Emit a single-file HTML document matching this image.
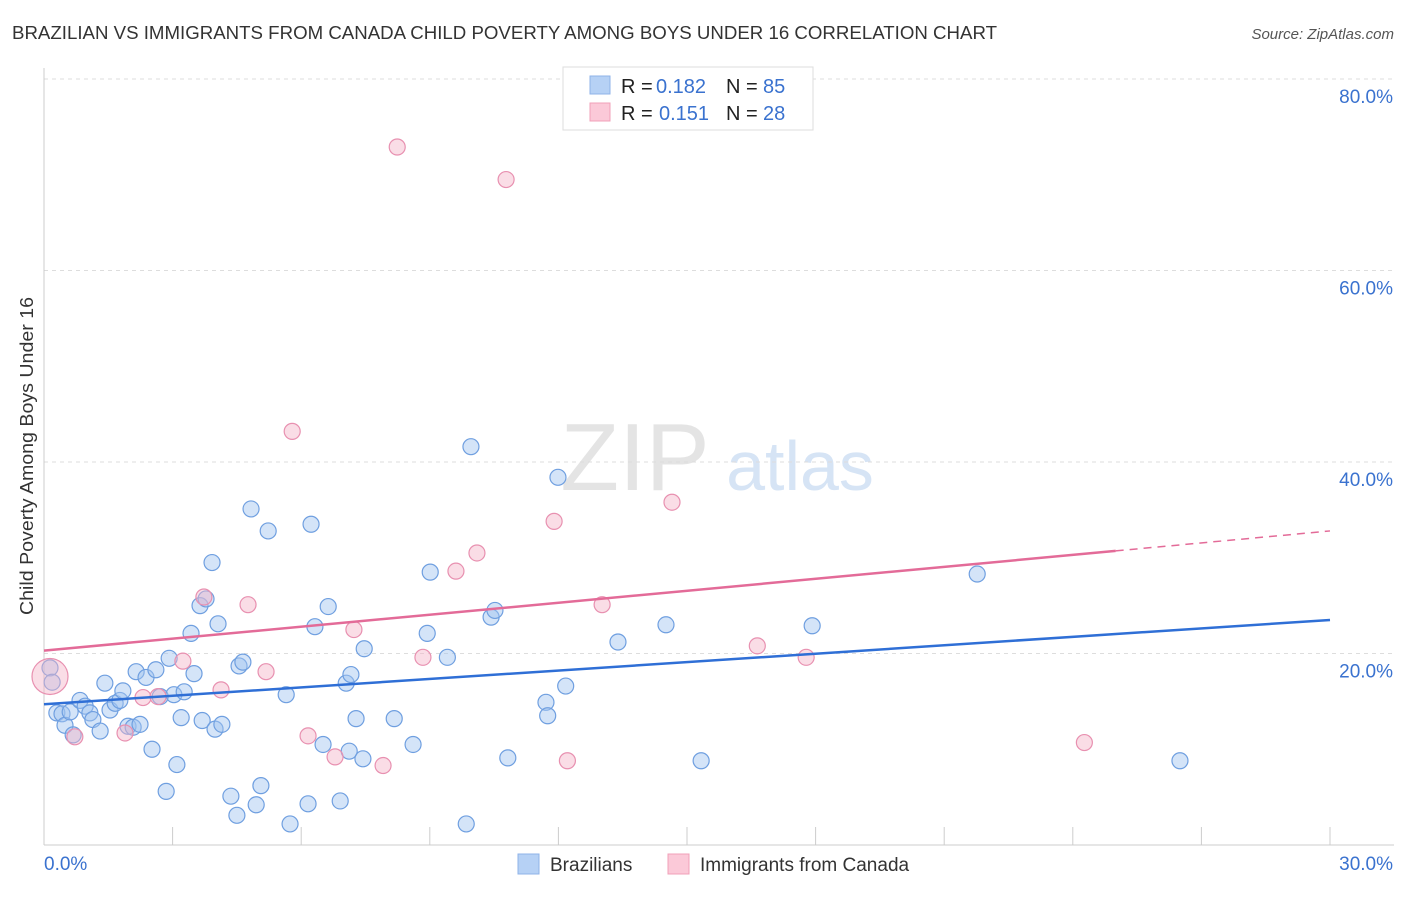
<!DOCTYPE html>
<html><head><meta charset="utf-8"><style>
body{margin:0;background:#fff;font-family:"Liberation Sans",sans-serif;}
svg text{font-family:"Liberation Sans",sans-serif;}
</style></head><body>
<svg id="chart" width="1406" height="892" xmlns="http://www.w3.org/2000/svg">
<text x="12" y="39" font-size="18.5" fill="#333" textLength="985" lengthAdjust="spacingAndGlyphs">BRAZILIAN VS IMMIGRANTS FROM CANADA CHILD POVERTY AMONG BOYS UNDER 16 CORRELATION CHART</text>
<text x="1394" y="39" font-size="15" fill="#555" text-anchor="end" font-style="italic">Source: ZipAtlas.com</text>
<text transform="translate(33,456) rotate(-90)" font-size="18.5" fill="#333" text-anchor="middle" textLength="318" lengthAdjust="spacingAndGlyphs">Child Poverty Among Boys Under 16</text>
<g>
<text x="635" y="490" font-size="96" fill="#e4e4e4" text-anchor="middle" font-family="Liberation Serif">ZIP</text>
<text x="800" y="490" font-size="70" fill="#d6e4f5" text-anchor="middle">atlas</text>
</g>
<g id="grid"></g><g id="axes"></g><g id="pts"></g><g id="lines"></g>
<g>
<rect x="563" y="67" width="250" height="63" fill="#fff" stroke="#ddd"/>
<rect x="590" y="76" width="20" height="18" fill="#b6d1f5" stroke="#8fb3e8"/>
<rect x="590" y="103" width="20" height="18" fill="#fbc9d8" stroke="#f0a0b8"/>
<text x="621" y="93" font-size="20" fill="#222">R =</text>
<text x="656" y="93" font-size="20" fill="#3a72cf">0.182</text>
<text x="726" y="93" font-size="20" fill="#222">N =</text>
<text x="763" y="93" font-size="20" fill="#3a72cf">85</text>
<text x="621" y="120" font-size="20" fill="#222">R =</text>
<text x="659" y="120" font-size="20" fill="#3a72cf">0.151</text>
<text x="726" y="120" font-size="20" fill="#222">N =</text>
<text x="763" y="120" font-size="20" fill="#3a72cf">28</text>
</g>
<g>
<rect x="518" y="854" width="21" height="20" fill="#b6d1f5" stroke="#8fb3e8"/>
<text x="550" y="871" font-size="19" fill="#333">Brazilians</text>
<rect x="668" y="854" width="21" height="20" fill="#fbc9d8" stroke="#f0a0b8"/>
<text x="700" y="871" font-size="19" fill="#333">Immigrants from Canada</text>
</g>
</svg>
<script>
const blueX=[0.14,0.19,0.30,0.42,0.49,0.61,0.68,0.84,0.96,1.07,1.14,1.31,1.42,1.54,1.66,1.77,1.84,1.96,2.08,2.15,2.24,2.38,2.52,2.61,2.71,2.85,2.92,3.03,3.10,3.20,3.27,3.43,3.50,3.64,3.69,3.78,3.92,3.99,4.06,4.15,4.36,4.50,4.55,4.64,4.83,4.95,5.06,5.23,5.65,5.74,6.16,6.23,6.32,6.51,6.63,6.91,7.05,7.12,7.16,7.28,7.44,7.47,8.17,8.61,8.94,9.01,9.41,9.85,9.96,10.43,10.52,10.82,11.71,11.75,11.99,12.17,13.39,14.51,15.33,17.92,21.77,26.50];
const blueY=[18.5,17.0,13.8,13.7,12.5,13.9,11.5,15.1,14.5,13.8,13.1,11.9,16.9,14.1,14.8,15.1,16.1,12.4,12.3,18.1,12.6,17.5,10.0,18.3,15.5,5.6,19.5,15.7,8.4,13.3,16.0,22.1,17.9,25.0,13.0,25.7,29.5,12.1,23.1,12.6,5.1,3.1,18.7,19.1,35.1,4.2,6.2,32.8,15.7,2.2,4.3,33.5,22.8,10.5,24.9,4.6,16.9,9.8,17.8,13.2,9.0,20.5,13.2,10.5,22.1,28.5,19.6,2.2,41.6,23.8,24.5,9.1,14.9,13.5,38.4,16.6,21.2,23.0,8.8,22.9,28.3,8.8];
const pinkX=[0.14,0.72,1.89,2.31,2.66,3.24,3.73,4.13,4.76,5.18,5.79,6.16,6.79,7.23,7.91,8.24,8.84,9.61,10.10,10.78,11.90,12.21,13.02,14.65,16.64,17.78,24.27];
const pinkY=[17.6,11.3,11.7,15.4,15.5,19.2,25.9,16.2,25.1,18.1,43.2,11.4,9.2,22.5,8.3,72.9,19.6,28.6,30.5,69.5,33.8,8.8,25.1,35.8,20.8,19.6,10.7];
const yTicks=[20,40,60,80];
const yTickLabels=["20.0%","40.0%","60.0%","80.0%"];
const blueTrend=[14.7,23.5];
const pinkTrend=[20.3,32.8];
const pinkSolidEnd=25;
const NS="http://www.w3.org/2000/svg";
const X=v=>44+v/30*1286, Y=v=>845-v/20*191.5;
function mk(t,a,p){const e=document.createElementNS(NS,t);for(const k in a)e.setAttribute(k,a[k]);document.getElementById(p).appendChild(e);return e;}
yTicks.forEach((t,i)=>{
 const g=mk('line',{x1:44,x2:1394,y1:Y(t),y2:Y(t),stroke:'#ddd','stroke-dasharray':'4,4'},'grid');
 
 
 const l=mk('text',{x:1393,y:Y(t)+24,'font-size':19,fill:'#3a72cf','text-anchor':'end'},'grid');l.textContent=yTickLabels[i];
 
 
});
let a=mk('line',{x1:44,x2:1394,y1:845,y2:845,stroke:'#ccc'},'axes');


a=mk('line',{x1:44,x2:44,y1:68,y2:845,stroke:'#ccc'},'axes');


for(let i=0;i<=10;i++){const t=mk('line',{x1:X(i*3),x2:X(i*3),y1:827,y2:845,stroke:'#ccc'},'axes');
 
 }
let t=mk('text',{x:44,y:870,'font-size':19,fill:'#3a72cf'},'axes');t.textContent='0.0%';


t=mk('text',{x:1393,y:870,'font-size':19,fill:'#3a72cf','text-anchor':'end'},'axes');t.textContent='30.0%';


blueX.forEach((x,i)=>{const c=mk('circle',{cx:X(x),cy:Y(blueY[i]),r:8,fill:'rgba(160,196,240,0.45)',stroke:'#6f9fe0','stroke-width':1.2},'pts');
 
 });
pinkX.forEach((x,i)=>{const c=mk('circle',{cx:X(x),cy:Y(pinkY[i]),r:i==0?18:8,fill:'rgba(245,180,200,0.45)',stroke:'#e890b0','stroke-width':1.2},'pts');
 
 });
let ln=mk('line',{x1:X(0),y1:Y(blueTrend[0]),x2:X(30),y2:Y(blueTrend[1]),stroke:'#2f6fd6','stroke-width':2.5},'lines');


const pm=pinkTrend[0]+(pinkTrend[1]-pinkTrend[0])*pinkSolidEnd/30;
ln=mk('line',{x1:X(0),y1:Y(pinkTrend[0]),x2:X(pinkSolidEnd),y2:Y(pm),stroke:'#e36b98','stroke-width':2.5},'lines');


ln=mk('line',{x1:X(pinkSolidEnd),y1:Y(pm),x2:X(30),y2:Y(pinkTrend[1]),stroke:'#e36b98','stroke-width':1.5,'stroke-dasharray':'8,6'},'lines');


</script>
</body></html>
